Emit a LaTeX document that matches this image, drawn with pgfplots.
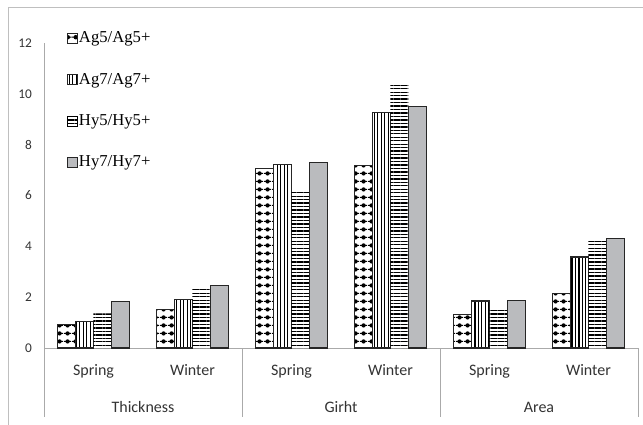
\documentclass[border=0pt]{standalone}
\usepackage{fontspec}
\setmainfont{Liberation Serif}
\newfontfamily\calfont{Carlito}
\usepackage{pgfplots}
\pgfplotsset{compat=1.18}
\usetikzlibrary{patterns.meta}
\definecolor{barfill}{RGB}{186,187,190}
\definecolor{axgray}{RGB}{170,170,170}
\tikzdeclarepattern{
  name=bigdots, type=uncolored,
  bounding box={(0pt,0pt) and (6pt,6pt)},
  tile size={(6pt,6pt)},
  code={\fill (3pt,3pt) circle (1.8pt); \fill (0pt,2.6pt) rectangle (6pt,3.4pt);}
}
\newcommand{\legfont}{\fontsize{12.5}{15}\selectfont}
\begin{document}
\begin{tikzpicture}
\path[use as bounding box] (-33pt,-57.75pt) rectangle (449.25pt,261pt);
\begin{axis}[
  name=ax,
  scale only axis,
  width=445.5pt, height=228.75pt,
  xmin=-0.5, xmax=5.5, ymin=0, ymax=12,
  ybar=0pt, bar width=13.5pt,
  axis x line=bottom, axis y line=left,
  axis line style={axgray, line width=0.6pt, -},
  major tick length=0pt,
  xtick={0,1,2,3,4,5},
  xticklabels={Spring,Winter,Spring,Winter,Spring,Winter},
  xticklabel style={font=\calfont\fontsize{12}{14}\selectfont, yshift=-9pt, text=black!80},
  ytick={0,2,4,6,8,10,12},
  yticklabel style={font=\calfont\fontsize{10}{12}\selectfont, xshift=-5.5pt, text=black!80},
  /pgf/number format/assume math mode=true,
  legend style={draw=none, fill=none, at={(axis description cs:0.038,1.042)}, anchor=north west,
    font=\legfont, nodes={font=\legfont, inner sep=1pt}, row sep=19.25pt, legend cell align=left, inner sep=0pt},
  legend image code/.code={\draw[#1, line width=0.6pt] (0pt,-3.75pt) rectangle (7.5pt,3.75pt);},
  clip=false,
]
\addplot[draw=black!85, line width=0.8pt, pattern=bigdots, pattern color=black] coordinates {(0,0.94) (1,1.52) (2,7.07) (3,7.19) (4,1.31) (5,2.13)};
\addplot[draw=black!85, line width=0.8pt, pattern={Lines[angle=90, distance=2.6pt, line width=0.9pt]}, pattern color=black] coordinates {(0,1.06) (1,1.92) (2,7.22) (3,9.28) (4,1.85) (5,3.58)};
\addplot[draw=none, pattern={Lines[angle=0, distance=2.6pt, line width=1pt]}, pattern color=black] coordinates {(0,1.36) (1,2.35) (2,6.17) (3,10.44) (4,1.52) (5,4.30)};
\addplot[draw=black!85, line width=0.8pt, fill=barfill] coordinates {(0,1.84) (1,2.45) (2,7.31) (3,9.49) (4,1.86) (5,4.32)};
\legend{Ag5/Ag5+,Ag7/Ag7+,Hy5/Hy5+,Hy7/Hy7+}
\draw[axgray, line width=0.6pt] (axis cs:-0.5,0) -- ([yshift=-51.75pt]axis cs:-0.5,0);
\draw[axgray, line width=0.6pt] (axis cs:1.5,0) -- ([yshift=-51.75pt]axis cs:1.5,0);
\draw[axgray, line width=0.6pt] (axis cs:3.5,0) -- ([yshift=-51.75pt]axis cs:3.5,0);
\draw[axgray, line width=0.6pt] (axis cs:5.5,0) -- ([yshift=-51.75pt]axis cs:5.5,0);
\node[font=\calfont\fontsize{12}{14}\selectfont, text=black!80] at ([yshift=-44.25pt]axis cs:0.5,0) {Thickness};
\node[font=\calfont\fontsize{12}{14}\selectfont, text=black!80] at ([yshift=-44.25pt]axis cs:2.5,0) {Girht};
\node[font=\calfont\fontsize{12}{14}\selectfont, text=black!80] at ([yshift=-44.25pt]axis cs:4.5,0) {Area};
\end{axis}
\draw[black!25, line width=0.6pt] (-27pt,-57.75pt) -- (-27pt,255.75pt) -- (449.25pt,255.75pt);
\end{tikzpicture}
\end{document}
